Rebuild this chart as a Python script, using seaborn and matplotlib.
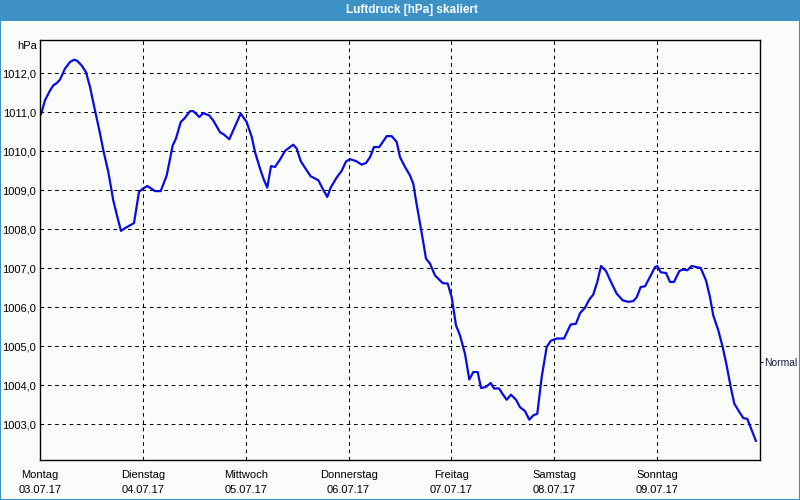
import matplotlib
matplotlib.use("Agg")
import matplotlib.pyplot as plt
from matplotlib.patches import Rectangle
import seaborn as sns
import pandas as pd

# ---- data -------------------------------------------------------------
title = "Luftdruck [hPa] skaliert"
unit_label = "hPa"
day_names = ["Montag", "Dienstag", "Mittwoch", "Donnerstag", "Freitag", "Samstag", "Sonntag"]
day_dates = ["03.07.17", "04.07.17", "05.07.17", "06.07.17", "07.07.17", "08.07.17", "09.07.17"]
y_ticks = [1003, 1004, 1005, 1006, 1007, 1008, 1009, 1010, 1011, 1012]
normal_value = 1004.6
normal_label = "Normal"

# hours since Monday 00:00
hours = [0.23, 1.17, 2.33, 3.1, 3.9, 4.67, 5.83, 7.0, 7.93, 8.7, 9.73, 10.73, 11.67,
         12.83, 14.0, 14.77, 15.94, 17.1, 18.04, 18.9, 19.83, 21.93, 23.1, 23.96,
         25.03, 26.06, 26.83, 28.16, 29.56, 30.96, 31.73, 32.83, 33.83, 35.0, 35.77,
         37.17, 38.1, 39.5, 40.43, 42.0, 42.93, 44.17, 45.5, 46.83, 48.23, 49.4,
         50.17, 51.33, 52.27, 53.03, 53.9, 54.83, 56.0, 57.17, 58.33, 59.1, 59.9,
         60.83, 62.23, 63.16, 64.94, 65.96, 67.03, 67.83, 69.23, 70.39, 71.4, 72.33,
         73.73, 75.06, 76.06, 77.0, 77.93, 79.17, 80.9, 82.06, 83.23, 84.0, 85.17,
         86.33, 87.1, 87.73, 88.27, 89.29, 90.06, 91.0, 92.16, 93.33, 93.96, 95.13,
         96.06, 97.06, 98.0, 99.16, 100.17, 101.1, 102.13, 102.9, 104.06, 105.16,
         105.93, 107.09, 107.86, 108.89, 109.89, 111.06, 112.0, 113.16, 114.17,
         115.1, 116.03, 117.06, 118.22, 119.16, 120.56, 122.26, 123.83, 125.06,
         126.0, 127.16, 128.17, 129.1, 130.03, 130.9, 132.06, 133.23, 134.56,
         135.96, 137.26, 138.43, 139.23, 140.16, 141.17, 142.33, 143.5, 144.04,
         144.83, 146.07, 147.0, 147.93, 149.17, 149.96, 151.03, 152.06, 153.23,
         154.16, 155.4, 156.33, 157.1, 158.27, 159.29, 160.22, 161.16, 162.0,
         163.16, 164.1, 165.03, 166.06, 167.06]
pressure = [1010.95, 1011.31, 1011.56, 1011.69, 1011.75, 1011.84, 1012.12, 1012.29,
            1012.35, 1012.32, 1012.2, 1012.03, 1011.65, 1011.05, 1010.46, 1010.03,
            1009.47, 1008.74, 1008.32, 1007.96, 1008.03, 1008.16, 1008.96, 1009.04,
            1009.11, 1009.04, 1008.98, 1008.98, 1009.38, 1010.15, 1010.33, 1010.75,
            1010.86, 1011.03, 1011.03, 1010.88, 1010.98, 1010.92, 1010.79, 1010.49,
            1010.43, 1010.31, 1010.64, 1010.97, 1010.75, 1010.37, 1009.98, 1009.56,
            1009.26, 1009.07, 1009.62, 1009.6, 1009.79, 1010.01, 1010.11, 1010.17,
            1010.07, 1009.75, 1009.51, 1009.36, 1009.26, 1009.04, 1008.83, 1009.07,
            1009.33, 1009.5, 1009.74, 1009.8, 1009.75, 1009.66, 1009.7, 1009.85,
            1010.11, 1010.11, 1010.39, 1010.39, 1010.24, 1009.85, 1009.6, 1009.38,
            1009.17, 1008.74, 1008.4, 1007.76, 1007.25, 1007.12, 1006.82, 1006.69,
            1006.62, 1006.61, 1006.26, 1005.54, 1005.28, 1004.81, 1004.15, 1004.34,
            1004.34, 1003.93, 1003.96, 1004.06, 1003.92, 1003.92, 1003.79, 1003.63,
            1003.76, 1003.63, 1003.44, 1003.34, 1003.12, 1003.23, 1003.27, 1004.21,
            1004.98, 1005.14, 1005.2, 1005.2, 1005.56, 1005.58, 1005.85, 1005.99,
            1006.2, 1006.33, 1006.65, 1007.06, 1006.93, 1006.65, 1006.35, 1006.18,
            1006.14, 1006.16, 1006.26, 1006.52, 1006.54, 1006.78, 1007.03, 1007.06,
            1006.9, 1006.88, 1006.65, 1006.65, 1006.93, 1006.97, 1006.95, 1007.06,
            1007.03, 1007.01, 1006.69, 1006.26, 1005.79, 1005.41, 1004.98, 1004.51,
            1003.96, 1003.53, 1003.32, 1003.16, 1003.14, 1002.85, 1002.57]

# ---- style ------------------------------------------------------------
sns.set_style("white")
plt.rcParams["font.family"] = ["Liberation Sans", "DejaVu Sans"]
plt.rcParams["font.size"] = 8

bg = "#fafcfa"
frame_blue = "#3d91c5"

fig = plt.figure(figsize=(8, 5), dpi=100, facecolor=bg)
ax = fig.add_axes([40 / 800, 40 / 500, 720 / 800, 420 / 500], facecolor=bg)

df = pd.DataFrame({"Stunde": hours, "Luftdruck": pressure})
sns.lineplot(data=df, x="Stunde", y="Luftdruck", ax=ax, color="#0a0ae6",
             linewidth=1.6, estimator=None, sort=False)

ax.set_xlim(0, 168)
ax.set_ylim(1002.085, 1012.855)

ax.set_xticks([24 * i for i in range(len(day_names))])
ax.set_xticklabels([f"{n}\n{d}" for n, d in zip(day_names, day_dates)],
                   linespacing=1.6)
ax.set_yticks(y_ticks)
ax.set_yticklabels([f"{v},0" for v in y_ticks])
ax.set_xlabel("")
ax.set_ylabel("")

ax.tick_params(axis="x", direction="out", length=4, width=1, color="black",
               pad=3, labelsize=8, labelcolor="black")
ax.tick_params(axis="y", length=0, pad=3, labelsize=8, labelcolor="black")

ax.grid(True, color="black", linestyle=(0, (3.5, 3.5)), linewidth=0.75)
for sp in ax.spines.values():
    sp.set_visible(True)
    sp.set_color("black")
    sp.set_linewidth(1.0)

# Normal marker on the right
ax2 = ax.twinx()
ax2.set_ylim(ax.get_ylim())
ax2.set_yticks([normal_value])
ax2.set_yticklabels([normal_label])
ax2.tick_params(axis="y", direction="out", length=2.5, width=0.8, pad=0.5,
                labelsize=7.4, labelcolor="#1a1a40")
for sp in ax2.spines.values():
    sp.set_visible(False)

# unit label
fig.text(37 / 800, 1 - 46 / 500, unit_label, ha="right", va="center",
         fontsize=8, color="black")

# title bar and frame
fig.patches.append(Rectangle((0, 1 - 21 / 500), 1, 21 / 500, transform=fig.transFigure,
                             facecolor=frame_blue, edgecolor="none", zorder=0))
fig.patches.append(Rectangle((0, 0), 1, 1, transform=fig.transFigure, fill=False,
                             edgecolor=frame_blue, linewidth=1.5, zorder=5))
fig.text(412 / 800, 1 - 10.5 / 500, title, ha="center", va="center",
         fontsize=8.5, fontweight="bold", color="white")

fig.savefig("out.png", dpi=100, facecolor=bg)
